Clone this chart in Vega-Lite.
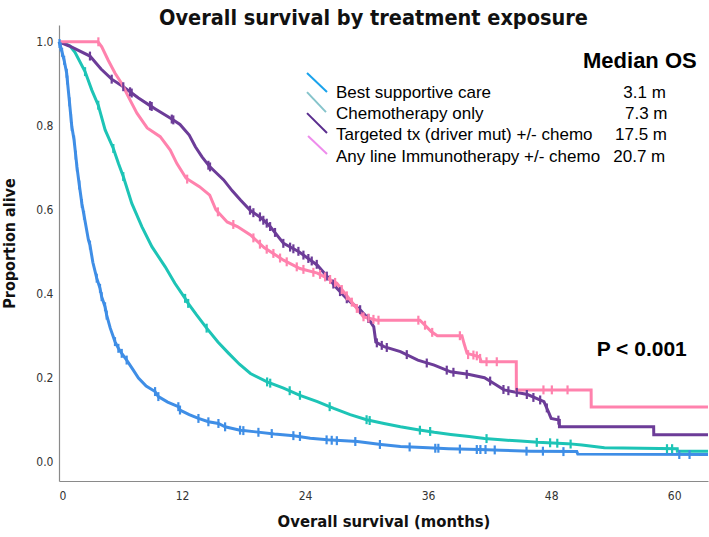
{
  "$schema": "https://vega.github.io/schema/vega-lite/v6.json",
  "autosize": {"type": "none"},
  "padding": {"left": 59, "top": 25, "right": 1, "bottom": 56},
  "width": 649,
  "height": 456,
  "background": "white",
  "config": {"view": {"stroke": null}},
  "title": {
    "text": "Overall survival by treatment exposure",
    "font": "DejaVu Sans Condensed",
    "fontSize": 21.5,
    "fontWeight": "bold",
    "color": "#111",
    "baseline": "alphabetic",
    "offset": 2.5,
    "dx": -10,
    "dy": 23.5
  },
  "datasets": {
    "curves": [
      {"g":"BSC","t":0,"s":1},{"g":"BSC","t":0.2,"s":0.985},{"g":"BSC","t":0.5,"s":0.956},{"g":"BSC","t":0.75,"s":0.925},{"g":"BSC","t":0.81,"s":0.909},{"g":"BSC","t":1.02,"s":0.857},{"g":"BSC","t":1.17,"s":0.818},{"g":"BSC","t":1.25,"s":0.798},{"g":"BSC","t":1.47,"s":0.766},{"g":"BSC","t":1.63,"s":0.73},{"g":"BSC","t":1.75,"s":0.702},{"g":"BSC","t":1.98,"s":0.659},{"g":"BSC","t":2.23,"s":0.615},{"g":"BSC","t":2.44,"s":0.587},{"g":"BSC","t":2.87,"s":0.528},{"g":"BSC","t":3.02,"s":0.516},{"g":"BSC","t":3.3,"s":0.475},{"g":"BSC","t":3.68,"s":0.437},{"g":"BSC","t":4.0,"s":0.413},{"g":"BSC","t":4.16,"s":0.393},{"g":"BSC","t":4.49,"s":0.369},{"g":"BSC","t":4.65,"s":0.349},{"g":"BSC","t":5.0,"s":0.318},{"g":"BSC","t":5.46,"s":0.286},{"g":"BSC","t":5.79,"s":0.27},{"g":"BSC","t":6.12,"s":0.258},{"g":"BSC","t":6.6,"s":0.242},{"g":"BSC","t":7.2,"s":0.22},{"g":"BSC","t":7.75,"s":0.199},{"g":"BSC","t":8.5,"s":0.18},{"g":"BSC","t":9.37,"s":0.167},{"g":"BSC","t":9.69,"s":0.155},{"g":"BSC","t":10.6,"s":0.142},{"g":"BSC","t":11.64,"s":0.131},{"g":"BSC","t":11.8,"s":0.123},{"g":"BSC","t":12.7,"s":0.112},{"g":"BSC","t":13.6,"s":0.103},{"g":"BSC","t":14.57,"s":0.095},{"g":"BSC","t":15.55,"s":0.091},{"g":"BSC","t":16.2,"s":0.083},{"g":"BSC","t":17.66,"s":0.075},{"g":"BSC","t":17.98,"s":0.074},{"g":"BSC","t":19.2,"s":0.071},{"g":"BSC","t":21,"s":0.066},{"g":"BSC","t":22.9,"s":0.062},{"g":"BSC","t":24.5,"s":0.056},{"g":"BSC","t":26.2,"s":0.052},{"g":"BSC","t":29.1,"s":0.048},{"g":"BSC","t":31.4,"s":0.041},{"g":"BSC","t":33.3,"s":0.036},{"g":"BSC","t":36,"s":0.033},{"g":"BSC","t":38,"s":0.031},{"g":"BSC","t":41,"s":0.029},{"g":"BSC","t":43.1,"s":0.027},{"g":"BSC","t":46,"s":0.025},{"g":"BSC","t":50.5,"s":0.024},{"g":"BSC","t":50.6,"s":0.018},{"g":"BSC","t":63.3,"s":0.017},
      {"g":"Chemo","t":0,"s":1},{"g":"Chemo","t":0.5,"s":0.997},{"g":"Chemo","t":1.07,"s":0.99},{"g":"Chemo","t":1.56,"s":0.975},{"g":"Chemo","t":2.54,"s":0.929},{"g":"Chemo","t":3.2,"s":0.885},{"g":"Chemo","t":3.83,"s":0.849},{"g":"Chemo","t":4.5,"s":0.79},{"g":"Chemo","t":5.3,"s":0.746},{"g":"Chemo","t":5.8,"s":0.71},{"g":"Chemo","t":6.27,"s":0.679},{"g":"Chemo","t":7.1,"s":0.615},{"g":"Chemo","t":8.08,"s":0.56},{"g":"Chemo","t":9.06,"s":0.512},{"g":"Chemo","t":10.36,"s":0.464},{"g":"Chemo","t":11.3,"s":0.425},{"g":"Chemo","t":12.3,"s":0.389},{"g":"Chemo","t":12.6,"s":0.377},{"g":"Chemo","t":13.4,"s":0.35},{"g":"Chemo","t":14.4,"s":0.318},{"g":"Chemo","t":15.5,"s":0.285},{"g":"Chemo","t":16.55,"s":0.258},{"g":"Chemo","t":17.6,"s":0.232},{"g":"Chemo","t":18.67,"s":0.21},{"g":"Chemo","t":20.3,"s":0.19},{"g":"Chemo","t":21.9,"s":0.175},{"g":"Chemo","t":23.5,"s":0.158},{"g":"Chemo","t":25.2,"s":0.143},{"g":"Chemo","t":26.8,"s":0.127},{"g":"Chemo","t":28.4,"s":0.112},{"g":"Chemo","t":30,"s":0.1},{"g":"Chemo","t":31.7,"s":0.091},{"g":"Chemo","t":33.3,"s":0.083},{"g":"Chemo","t":35,"s":0.076},{"g":"Chemo","t":36.6,"s":0.07},{"g":"Chemo","t":38.2,"s":0.065},{"g":"Chemo","t":40,"s":0.06},{"g":"Chemo","t":41.5,"s":0.055},{"g":"Chemo","t":43.1,"s":0.052},{"g":"Chemo","t":45,"s":0.049},{"g":"Chemo","t":46.7,"s":0.046},{"g":"Chemo","t":49.6,"s":0.043},{"g":"Chemo","t":51,"s":0.04},{"g":"Chemo","t":53.2,"s":0.033},{"g":"Chemo","t":60.3,"s":0.031},{"g":"Chemo","t":60.31,"s":0.025},{"g":"Chemo","t":63.3,"s":0.025},
      {"g":"Targeted","t":0,"s":1},{"g":"Targeted","t":1,"s":0.99},{"g":"Targeted","t":3.02,"s":0.966},{"g":"Targeted","t":4.1,"s":0.935},{"g":"Targeted","t":5.14,"s":0.911},{"g":"Targeted","t":6.27,"s":0.893},{"g":"Targeted","t":6.93,"s":0.881},{"g":"Targeted","t":7.75,"s":0.866},{"g":"Targeted","t":8.88,"s":0.848},{"g":"Targeted","t":9.4,"s":0.84},{"g":"Targeted","t":11.0,"s":0.816},{"g":"Targeted","t":11.8,"s":0.803},{"g":"Targeted","t":12.7,"s":0.778},{"g":"Targeted","t":13.3,"s":0.75},{"g":"Targeted","t":13.95,"s":0.726},{"g":"Targeted","t":14.65,"s":0.704},{"g":"Targeted","t":15.25,"s":0.69},{"g":"Targeted","t":16.06,"s":0.671},{"g":"Targeted","t":16.9,"s":0.645},{"g":"Targeted","t":17.7,"s":0.623},{"g":"Targeted","t":18.67,"s":0.598},{"g":"Targeted","t":19.6,"s":0.583},{"g":"Targeted","t":20.26,"s":0.568},{"g":"Targeted","t":20.6,"s":0.56},{"g":"Targeted","t":21.9,"s":0.52},{"g":"Targeted","t":23.4,"s":0.5},{"g":"Targeted","t":25.2,"s":0.468},{"g":"Targeted","t":26.2,"s":0.44},{"g":"Targeted","t":27.1,"s":0.413},{"g":"Targeted","t":28.2,"s":0.385},{"g":"Targeted","t":29.4,"s":0.361},{"g":"Targeted","t":30.2,"s":0.34},{"g":"Targeted","t":30.7,"s":0.321},{"g":"Targeted","t":30.9,"s":0.285},{"g":"Targeted","t":31.7,"s":0.274},{"g":"Targeted","t":33.3,"s":0.262},{"g":"Targeted","t":35,"s":0.242},{"g":"Targeted","t":36.6,"s":0.23},{"g":"Targeted","t":38.2,"s":0.214},{"g":"Targeted","t":39.9,"s":0.208},{"g":"Targeted","t":41.5,"s":0.2},{"g":"Targeted","t":42.5,"s":0.185},{"g":"Targeted","t":43.4,"s":0.171},{"g":"Targeted","t":45.7,"s":0.16},{"g":"Targeted","t":47.3,"s":0.143},{"g":"Targeted","t":47.8,"s":0.115},{"g":"Targeted","t":48.0,"s":0.103},{"g":"Targeted","t":48.8,"s":0.099},{"g":"Targeted","t":48.81,"s":0.083},{"g":"Targeted","t":58,"s":0.083},{"g":"Targeted","t":58.01,"s":0.064},{"g":"Targeted","t":63.3,"s":0.064},
      {"g":"IO","t":0,"s":1},{"g":"IO","t":3.8,"s":1},{"g":"IO","t":4.17,"s":0.988},{"g":"IO","t":4.8,"s":0.956},{"g":"IO","t":5.47,"s":0.925},{"g":"IO","t":6.13,"s":0.9},{"g":"IO","t":6.77,"s":0.869},{"g":"IO","t":7.6,"s":0.83},{"g":"IO","t":8.6,"s":0.795},{"g":"IO","t":9.87,"s":0.774},{"g":"IO","t":10.85,"s":0.742},{"g":"IO","t":11.5,"s":0.71},{"g":"IO","t":12.4,"s":0.675},{"g":"IO","t":13.7,"s":0.655},{"g":"IO","t":14.7,"s":0.635},{"g":"IO","t":15.3,"s":0.6},{"g":"IO","t":16.4,"s":0.571},{"g":"IO","t":17.4,"s":0.56},{"g":"IO","t":18.67,"s":0.54},{"g":"IO","t":20,"s":0.51},{"g":"IO","t":21.9,"s":0.48},{"g":"IO","t":23.5,"s":0.46},{"g":"IO","t":25.2,"s":0.449},{"g":"IO","t":27.1,"s":0.425},{"g":"IO","t":28.4,"s":0.385},{"g":"IO","t":29.7,"s":0.345},{"g":"IO","t":31,"s":0.337},{"g":"IO","t":35.2,"s":0.337},{"g":"IO","t":35.7,"s":0.325},{"g":"IO","t":36.3,"s":0.31},{"g":"IO","t":36.9,"s":0.3},{"g":"IO","t":39.3,"s":0.3},{"g":"IO","t":39.5,"s":0.282},{"g":"IO","t":39.8,"s":0.258},{"g":"IO","t":41.0,"s":0.25},{"g":"IO","t":41.2,"s":0.238},{"g":"IO","t":44.6,"s":0.238},{"g":"IO","t":44.61,"s":0.171},{"g":"IO","t":51.9,"s":0.171},{"g":"IO","t":51.91,"s":0.13},{"g":"IO","t":63.3,"s":0.13}
    ],
    "censor": [
      {"g":"BSC","t":0.05,"s":0.996},{"g":"BSC","t":0.16,"s":0.988},{"g":"BSC","t":0.3,"s":0.975},{"g":"BSC","t":0.5,"s":0.956},{"g":"BSC","t":0.75,"s":0.925},{"g":"BSC","t":0.81,"s":0.909},{"g":"BSC","t":1.02,"s":0.857},{"g":"BSC","t":1.17,"s":0.818},{"g":"BSC","t":1.25,"s":0.798},{"g":"BSC","t":1.47,"s":0.766},{"g":"BSC","t":1.63,"s":0.73},{"g":"BSC","t":1.75,"s":0.702},{"g":"BSC","t":1.98,"s":0.659},{"g":"BSC","t":2.23,"s":0.615},{"g":"BSC","t":2.44,"s":0.587},{"g":"BSC","t":3.02,"s":0.516},{"g":"BSC","t":3.68,"s":0.437},{"g":"BSC","t":4.0,"s":0.413},{"g":"BSC","t":4.16,"s":0.393},{"g":"BSC","t":4.49,"s":0.369},{"g":"BSC","t":4.65,"s":0.349},{"g":"BSC","t":5.46,"s":0.286},{"g":"BSC","t":5.79,"s":0.27},{"g":"BSC","t":6.12,"s":0.258},{"g":"BSC","t":6.6,"s":0.242},{"g":"BSC","t":9.37,"s":0.167},{"g":"BSC","t":9.69,"s":0.155},{"g":"BSC","t":11.64,"s":0.131},{"g":"BSC","t":11.8,"s":0.123},{"g":"BSC","t":13.6,"s":0.103},{"g":"BSC","t":14.57,"s":0.095},{"g":"BSC","t":15.55,"s":0.091},{"g":"BSC","t":16.2,"s":0.083},{"g":"BSC","t":17.66,"s":0.075},{"g":"BSC","t":17.98,"s":0.074},{"g":"BSC","t":19.45,"s":0.07},{"g":"BSC","t":20.75,"s":0.067},{"g":"BSC","t":22.86,"s":0.062},{"g":"BSC","t":23.5,"s":0.06},{"g":"BSC","t":26.1,"s":0.052},{"g":"BSC","t":26.6,"s":0.051},{"g":"BSC","t":27.1,"s":0.05},{"g":"BSC","t":28.9,"s":0.048},{"g":"BSC","t":31.3,"s":0.041},{"g":"BSC","t":34.2,"s":0.035},{"g":"BSC","t":36.7,"s":0.032},{"g":"BSC","t":37.0,"s":0.032},{"g":"BSC","t":39.1,"s":0.03},{"g":"BSC","t":40.75,"s":0.029},{"g":"BSC","t":41.1,"s":0.029},{"g":"BSC","t":41.6,"s":0.029},{"g":"BSC","t":42.5,"s":0.028},{"g":"BSC","t":45.6,"s":0.025},{"g":"BSC","t":47.2,"s":0.025},{"g":"BSC","t":49.2,"s":0.024},{"g":"BSC","t":60.5,"s":0.017},{"g":"BSC","t":61.5,"s":0.017},
      {"g":"Chemo","t":2.54,"s":0.929},{"g":"Chemo","t":3.83,"s":0.849},{"g":"Chemo","t":5.3,"s":0.746},{"g":"Chemo","t":6.27,"s":0.679},{"g":"Chemo","t":12.3,"s":0.389},{"g":"Chemo","t":12.6,"s":0.377},{"g":"Chemo","t":14.4,"s":0.318},{"g":"Chemo","t":20.3,"s":0.19},{"g":"Chemo","t":20.6,"s":0.187},{"g":"Chemo","t":22.5,"s":0.169},{"g":"Chemo","t":23.5,"s":0.158},{"g":"Chemo","t":26.4,"s":0.131},{"g":"Chemo","t":30.0,"s":0.1},{"g":"Chemo","t":30.3,"s":0.098},{"g":"Chemo","t":35.2,"s":0.075},{"g":"Chemo","t":36.2,"s":0.072},{"g":"Chemo","t":41.7,"s":0.055},{"g":"Chemo","t":46.6,"s":0.046},{"g":"Chemo","t":47.9,"s":0.045},{"g":"Chemo","t":48.6,"s":0.044},{"g":"Chemo","t":49.9,"s":0.042},{"g":"Chemo","t":59.3,"s":0.031},{"g":"Chemo","t":59.8,"s":0.031},
      {"g":"Targeted","t":3.02,"s":0.966},{"g":"Targeted","t":5.14,"s":0.911},{"g":"Targeted","t":6.27,"s":0.893},{"g":"Targeted","t":6.93,"s":0.881},{"g":"Targeted","t":7.09,"s":0.878},{"g":"Targeted","t":8.88,"s":0.848},{"g":"Targeted","t":9.04,"s":0.846},{"g":"Targeted","t":11.0,"s":0.816},{"g":"Targeted","t":11.15,"s":0.814},{"g":"Targeted","t":14.57,"s":0.706},{"g":"Targeted","t":14.73,"s":0.702},{"g":"Targeted","t":18.63,"s":0.599},{"g":"Targeted","t":18.96,"s":0.593},{"g":"Targeted","t":19.6,"s":0.583},{"g":"Targeted","t":19.93,"s":0.575},{"g":"Targeted","t":20.26,"s":0.568},{"g":"Targeted","t":20.59,"s":0.56},{"g":"Targeted","t":21.07,"s":0.546},{"g":"Targeted","t":21.88,"s":0.52},{"g":"Targeted","t":22.54,"s":0.511},{"g":"Targeted","t":22.86,"s":0.507},{"g":"Targeted","t":23.35,"s":0.501},{"g":"Targeted","t":23.84,"s":0.492},{"g":"Targeted","t":24.32,"s":0.484},{"g":"Targeted","t":24.65,"s":0.478},{"g":"Targeted","t":25.14,"s":0.47},{"g":"Targeted","t":26.12,"s":0.442},{"g":"Targeted","t":26.76,"s":0.423},{"g":"Targeted","t":27.41,"s":0.405},{"g":"Targeted","t":28.07,"s":0.388},{"g":"Targeted","t":29.37,"s":0.362},{"g":"Targeted","t":30.17,"s":0.341},{"g":"Targeted","t":31.0,"s":0.283},{"g":"Targeted","t":31.48,"s":0.277},{"g":"Targeted","t":31.97,"s":0.272},{"g":"Targeted","t":33.92,"s":0.255},{"g":"Targeted","t":35.87,"s":0.235},{"g":"Targeted","t":37.82,"s":0.218},{"g":"Targeted","t":38.47,"s":0.213},{"g":"Targeted","t":39.77,"s":0.208},{"g":"Targeted","t":42.05,"s":0.192},{"g":"Targeted","t":43.35,"s":0.172},{"g":"Targeted","t":43.83,"s":0.169},{"g":"Targeted","t":44.65,"s":0.165},{"g":"Targeted","t":45.63,"s":0.16},{"g":"Targeted","t":46.27,"s":0.153},{"g":"Targeted","t":46.93,"s":0.147},{"g":"Targeted","t":47.58,"s":0.128},{"g":"Targeted","t":48.71,"s":0.099},
      {"g":"IO","t":3.84,"s":1.0},{"g":"IO","t":12.5,"s":0.673},{"g":"IO","t":15.5,"s":0.595},{"g":"IO","t":17.0,"s":0.565},{"g":"IO","t":18.96,"s":0.533},{"g":"IO","t":19.6,"s":0.518},{"g":"IO","t":20.26,"s":0.506},{"g":"IO","t":20.91,"s":0.496},{"g":"IO","t":21.56,"s":0.485},{"g":"IO","t":22.21,"s":0.476},{"g":"IO","t":23.19,"s":0.464},{"g":"IO","t":23.84,"s":0.458},{"g":"IO","t":24.81,"s":0.451},{"g":"IO","t":25.46,"s":0.446},{"g":"IO","t":25.95,"s":0.44},{"g":"IO","t":26.44,"s":0.434},{"g":"IO","t":26.93,"s":0.427},{"g":"IO","t":27.58,"s":0.41},{"g":"IO","t":28.07,"s":0.395},{"g":"IO","t":28.56,"s":0.38},{"g":"IO","t":29.05,"s":0.365},{"g":"IO","t":29.7,"s":0.345},{"g":"IO","t":30.19,"s":0.342},{"g":"IO","t":30.67,"s":0.339},{"g":"IO","t":31.16,"s":0.337},{"g":"IO","t":35.05,"s":0.337},{"g":"IO","t":35.7,"s":0.325},{"g":"IO","t":36.4,"s":0.308},{"g":"IO","t":39.1,"s":0.3},{"g":"IO","t":39.9,"s":0.255},{"g":"IO","t":40.42,"s":0.254},{"g":"IO","t":40.75,"s":0.252},{"g":"IO","t":41.07,"s":0.246},{"g":"IO","t":41.7,"s":0.238},{"g":"IO","t":42.7,"s":0.238},{"g":"IO","t":47.25,"s":0.171},{"g":"IO","t":48.07,"s":0.171},{"g":"IO","t":49.6,"s":0.171}
    ],
    "swatches": [
      {"g":"BSC","t":24.19,"s":0.9255,"t2":26.14,"s2":0.8802},
      {"g":"Chemo","t":24.19,"s":0.8802,"t2":26.04,"s2":0.8326},
      {"g":"Targeted","t":24.19,"s":0.8302,"t2":26.14,"s2":0.7826},
      {"g":"IO","t":24.29,"s":0.7755,"t2":26.14,"s2":0.7326}
    ],
    "labels": [
      {"label":"Best supportive care","t":27.02,"s":0.865},
      {"label":"Chemotherapy only","t":27.02,"s":0.816},
      {"label":"Targeted tx (driver mut) +/- chemo","t":27.02,"s":0.766},
      {"label":"Any line Immunotherapy +/- chemo","t":27.02,"s":0.714}
    ],
    "medians": [
      {"label":"3.1 m","t":55.04,"s":0.865},
      {"label":"7.3 m","t":55.2,"s":0.816},
      {"label":"17.5 m","t":54.23,"s":0.766},
      {"label":"20.7 m","t":54.06,"s":0.714}
    ],
    "heading": [{"label":"Median OS","t":51.11,"s":0.9367}],
    "pvalue": [{"label":"P < 0.001","t":52.44,"s":0.2517}]
  },
  "encoding": {
    "x": {
      "field": "t", "type": "quantitative",
      "scale": {"domain": [0, 63.3], "nice": false, "zero": false},
      "axis": {
        "values": [0, 12, 24, 36, 48, 60],
        "title": "Overall survival (months)",
        "grid": false, "ticks": false,
        "domainColor": "#8a8a8a", "domainWidth": 1.2,
        "labelFont": "DejaVu Sans Condensed", "labelFontSize": 12, "labelColor": "#333",
        "labelPadding": 9,
        "titleFont": "DejaVu Sans Condensed", "titleFontSize": 16.5, "titleFontWeight": "bold", "titleColor": "#111",
        "titlePadding": 12
      }
    },
    "y": {
      "field": "s", "type": "quantitative",
      "scale": {"domain": [-0.046, 1.04], "nice": false, "zero": false},
      "axis": {
        "values": [0, 0.2, 0.4, 0.6, 0.8, 1.0],
        "format": ".1f",
        "title": "Proportion alive",
        "grid": false, "ticks": false,
        "domainColor": "#8a8a8a", "domainWidth": 1.2,
        "labelFont": "DejaVu Sans Condensed", "labelFontSize": 12, "labelColor": "#333",
        "labelPadding": 6,
        "titleFont": "DejaVu Sans Condensed", "titleFontSize": 16, "titleFontWeight": "bold", "titleColor": "#111",
        "titlePadding": 18,
        "titleY": 218
      }
    }
  },
  "layer": [
    {
      "data": {"name": "curves"},
      "mark": {"type": "line", "strokeWidth": 3, "interpolate": "linear"},
      "encoding": {
        "color": {"field": "g", "type": "nominal",
          "scale": {"domain": ["BSC", "Chemo", "Targeted", "IO"], "range": ["#3F8EE6", "#1DC4B6", "#6C3C98", "#FF82AD"]},
          "legend": null}
      }
    },
    {
      "data": {"name": "censor"},
      "mark": {"type": "point", "shape": "M0,-1L0,1", "size": 80, "strokeWidth": 2.2, "filled": false, "opacity": 1},
      "encoding": {
        "color": {"field": "g", "type": "nominal",
          "scale": {"domain": ["BSC", "Chemo", "Targeted", "IO"], "range": ["#3F8EE6", "#1DC4B6", "#6C3C98", "#FF82AD"]},
          "legend": null}
      }
    },
    {
      "data": {"name": "swatches"},
      "mark": {"type": "rule", "strokeWidth": 2},
      "encoding": {
        "x2": {"field": "t2"},
        "y2": {"field": "s2"},
        "stroke": {"field": "g", "type": "nominal",
          "scale": {"domain": ["BSC", "Chemo", "Targeted", "IO"], "range": ["#1AA3EC", "#86C4CB", "#5A2D8E", "#EE8CEC"]},
          "legend": null}
      }
    },
    {
      "data": {"name": "labels"},
      "mark": {"type": "text", "font": "Liberation Sans", "fontSize": 17, "align": "left", "baseline": "alphabetic", "color": "#000"},
      "encoding": {"text": {"field": "label"}}
    },
    {
      "data": {"name": "medians"},
      "mark": {"type": "text", "font": "Liberation Sans", "fontSize": 17, "align": "left", "baseline": "alphabetic", "color": "#000"},
      "encoding": {"text": {"field": "label"}}
    },
    {
      "data": {"name": "heading"},
      "mark": {"type": "text", "font": "Liberation Sans", "fontSize": 22, "fontWeight": "bold", "align": "left", "baseline": "alphabetic", "color": "#000"},
      "encoding": {"text": {"field": "label"}}
    },
    {
      "data": {"name": "pvalue"},
      "mark": {"type": "text", "font": "Liberation Sans", "fontSize": 21, "fontWeight": "bold", "align": "left", "baseline": "alphabetic", "color": "#000"},
      "encoding": {"text": {"field": "label"}}
    }
  ]
}
